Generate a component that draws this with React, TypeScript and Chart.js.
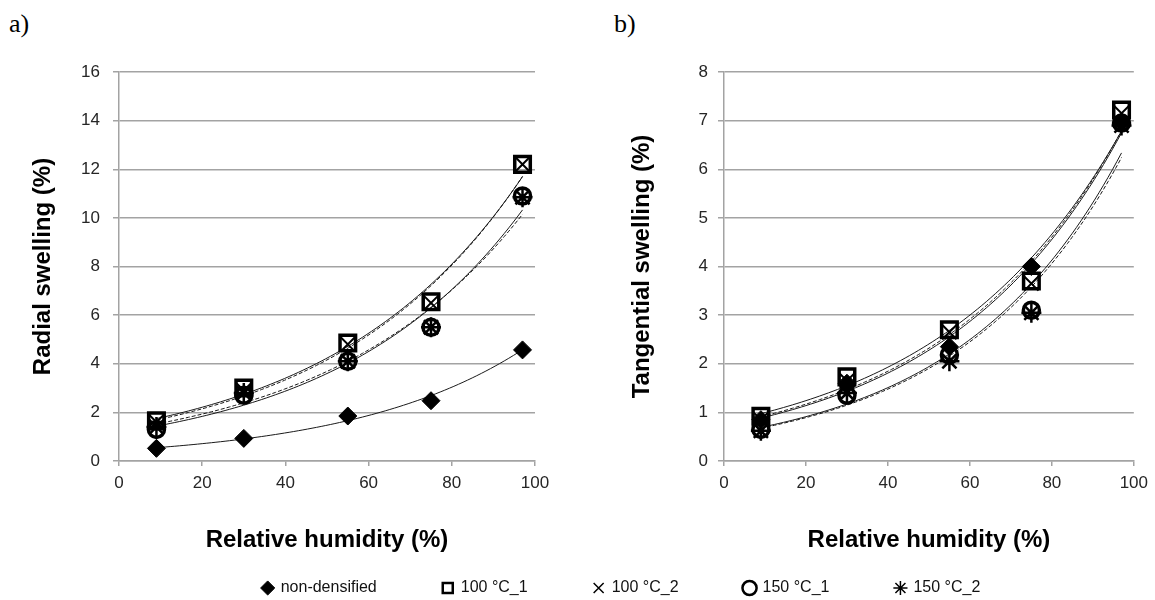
import React, { useEffect, useRef } from "react";
import { Chart, registerables } from "chart.js";

Chart.register(...registerables);

// ---------- data ----------
const humidity = [9, 30, 55, 75, 97];
const seriesNames = ["non-densified", "100 °C_1", "100 °C_2", "150 °C_1", "150 °C_2"];

const radialNonDensified = [0.52, 0.93, 1.85, 2.48, 4.57];
const radial100_1 = [1.65, 3.0, 4.85, 6.55, 12.2];
const radial100_2 = [1.6, 2.9, 4.8, 6.5, 12.2];
const radial150_1 = [1.3, 2.7, 4.1, 5.5, 10.9];
const radial150_2 = [1.4, 2.8, 4.1, 5.5, 10.85];

const tangNonDensified = [0.85, 1.6, 2.35, 4.0, 6.95];
const tang100_1 = [0.92, 1.73, 2.7, 3.7, 7.22];
const tang100_2 = [0.85, 1.65, 2.65, 3.65, 7.15];
const tang150_1 = [0.65, 1.35, 2.18, 3.1, 6.95];
const tang150_2 = [0.62, 1.4, 2.05, 3.05, 6.9];

const xTickValues = [0, 20, 40, 60, 80, 100];
const radialTicks = [0, 2, 4, 6, 8, 10, 12, 14, 16];
const tangentialTicks = [0, 1, 2, 3, 4, 5, 6, 7, 8];

const xTitle = "Relative humidity (%)";
const radialTitle = "Radial swelling (%)";
const tangentialTitle = "Tangential swelling (%)";

// ---------- styles ----------
const FONT = "'Liberation Sans', Arial, sans-serif";
const GRID = "#a3a3a3";
const TEXT = "#262626";

const markerStyles = [
  { style: "rectRot", radius: 9, border: 1, fill: "#000" },
  { style: "rect", radius: 11, border: 3.5, fill: "rgba(0,0,0,0)" },
  { style: "crossRot", radius: 10, border: 2, fill: "rgba(0,0,0,0)" },
  { style: "circle", radius: 8, border: 3.5, fill: "rgba(0,0,0,0)" },
  { style: "star", radius: 10, border: 2.5, fill: "rgba(0,0,0,0)" },
];
const legendBorders = [1, 2.5, 1.5, 2.5, 1.5];
const trendDash: number[][] = [[], [], [4, 2], [], [4, 2]];

// Excel-style exponential trendline: least squares on ln(y)
function expTrend(xs: number[], ys: number[]) {
  const n = xs.length;
  const ly = ys.map((v) => Math.log(v));
  const mx = xs.reduce((a, b) => a + b, 0) / n;
  const my = ly.reduce((a, b) => a + b, 0) / n;
  let sxy = 0;
  let sxx = 0;
  for (let i = 0; i < n; i++) {
    sxy += (xs[i] - mx) * (ly[i] - my);
    sxx += (xs[i] - mx) * (xs[i] - mx);
  }
  const b = sxy / sxx;
  const a = Math.exp(my - b * mx);
  const x0 = xs[0];
  const x1 = xs[n - 1];
  const steps = 80;
  const pts: { x: number; y: number }[] = [];
  for (let i = 0; i <= steps; i++) {
    const x = x0 + ((x1 - x0) * i) / steps;
    pts.push({ x, y: a * Math.exp(b * x) });
  }
  return pts;
}

function buildChart(
  canvas: HTMLCanvasElement,
  series: number[][],
  yTicks: number[],
  yTitle: string,
  yAxisWidth: number,
  yTitlePad: number,
  yTickPad: number,
  padRight: number
) {
  const datasets: any[] = [];
  series.forEach((ys, i) => {
    const m = markerStyles[i];
    datasets.push({
      label: seriesNames[i],
      data: humidity.map((x, j) => ({ x, y: ys[j] })),
      showLine: false,
      order: 5 - i,
      pointStyle: m.style,
      pointRadius: m.radius,
      pointHoverRadius: m.radius,
      pointBorderWidth: m.border,
      pointBackgroundColor: m.fill,
      pointBorderColor: "#000",
      borderColor: "#000",
      backgroundColor: m.fill,
    });
  });
  series.forEach((ys, i) => {
    datasets.push({
      label: seriesNames[i] + " trend",
      data: expTrend(humidity, ys),
      showLine: true,
      pointRadius: 0,
      pointHoverRadius: 0,
      borderColor: "#1a1a1a",
      borderWidth: 1,
      borderDash: trendDash[i],
      order: 10,
      fill: false,
    });
  });

  return new Chart(canvas, {
    type: "scatter",
    data: { datasets },
    options: {
      responsive: false,
      animation: false,
      events: [],
      layout: { padding: { left: 0, top: 32, right: padRight, bottom: 0 }, autoPadding: false },
      plugins: { legend: { display: false }, tooltip: { enabled: false } },
      scales: {
        x: {
          type: "linear",
          min: 0,
          max: 100,
          afterBuildTicks: (s: any) => {
            s.ticks = xTickValues.map((v) => ({ value: v }));
          },
          afterFit: (s: any) => {
            s.height = 109;
          },
          ticks: { color: TEXT, font: { family: FONT, size: 17 }, padding: 7 },
          grid: { display: true, drawOnChartArea: false, drawTicks: true, tickLength: 5, color: GRID, lineWidth: 1.5 },
          border: { display: true, color: GRID, width: 1.5 },
          title: {
            display: true,
            text: xTitle,
            color: "#000",
            font: { family: FONT, size: 24, weight: "bold" },
            padding: { top: 0, bottom: 15 },
          },
        },
        y: {
          type: "linear",
          min: 0,
          max: yTicks[yTicks.length - 1],
          afterBuildTicks: (s: any) => {
            s.ticks = yTicks.map((v) => ({ value: v }));
          },
          afterFit: (s: any) => {
            s.width = yAxisWidth;
          },
          ticks: { color: TEXT, font: { family: FONT, size: 17 }, padding: yTickPad },
          grid: { display: true, drawTicks: true, tickLength: 6, color: GRID, lineWidth: 1.5 },
          border: { display: true, color: GRID, width: 1.5 },
          title: {
            display: true,
            text: yTitle,
            color: "#000",
            font: { family: FONT, size: 24, weight: "bold" },
            padding: { top: yTitlePad, bottom: 0 },
          },
        },
      },
    } as any,
  });
}

export default function App() {
  const leftRef = useRef<HTMLCanvasElement>(null);
  const rightRef = useRef<HTMLCanvasElement>(null);
  const legendRef = useRef<HTMLCanvasElement>(null);

  useEffect(() => {
    const charts: Chart[] = [];
    if (leftRef.current) {
      charts.push(
        buildChart(
          leftRef.current,
          [radialNonDensified, radial100_1, radial100_2, radial150_1, radial150_2],
          radialTicks,
          radialTitle,
          119,
          29,
          13,
          45
        )
      );
    }
    if (rightRef.current) {
      charts.push(
        buildChart(
          rightRef.current,
          [tangNonDensified, tang100_1, tang100_2, tang150_1, tang150_2],
          tangentialTicks,
          tangentialTitle,
          124,
          28,
          10,
          16
        )
      );
    }
    if (legendRef.current) {
      charts.push(
        new Chart(legendRef.current, {
          type: "scatter",
          data: {
            datasets: seriesNames.map((name, i) => ({
              label: name,
              data: [],
              pointStyle: markerStyles[i].style,
              pointRadius: markerStyles[i].radius,
              pointBorderWidth: legendBorders[i],
              pointBackgroundColor: markerStyles[i].fill,
              pointBorderColor: "#000",
              borderColor: "#000",
              backgroundColor: markerStyles[i].fill,
            })),
          },
          options: {
            responsive: false,
            animation: false,
            events: [],
            layout: { padding: { left: 88, top: 0, right: 0, bottom: 0 } },
            scales: { x: { display: false }, y: { display: false } },
            plugins: {
              tooltip: { enabled: false },
              legend: {
                display: true,
                position: "top",
                align: "center",
                labels: {
                  usePointStyle: true,
                  boxWidth: 10,
                  boxHeight: 10,
                  padding: 66,
                  color: "#111",
                  font: { family: FONT, size: 16 },
                },
              },
            },
          } as any,
        })
      );
    }
    return () => charts.forEach((c) => c.destroy());
  }, []);

  return (
    <div
      style={{
        position: "absolute",
        left: 0,
        top: 0,
        width: 1155,
        height: 600,
        overflow: "hidden",
        background: "#fff",
      }}
    >
      <div
        style={{
          position: "absolute",
          left: 9,
          top: 11,
          fontFamily: "'Liberation Serif', 'Times New Roman', serif",
          fontSize: 26,
          lineHeight: "26px",
          color: "#000",
        }}
      >
        a)
      </div>
      <div
        style={{
          position: "absolute",
          left: 614,
          top: 11,
          fontFamily: "'Liberation Serif', 'Times New Roman', serif",
          fontSize: 26,
          lineHeight: "26px",
          color: "#000",
        }}
      >
        b)
      </div>
      <canvas
        ref={leftRef}
        width={580}
        height={530}
        style={{ position: "absolute", left: 0, top: 40, width: 580, height: 530 }}
      />
      <canvas
        ref={rightRef}
        width={555}
        height={530}
        style={{ position: "absolute", left: 600, top: 40, width: 555, height: 530 }}
      />
      <canvas
        ref={legendRef}
        width={1155}
        height={400}
        style={{ position: "absolute", left: 0, top: 514, width: 1155, height: 400 }}
      />
    </div>
  );
}
